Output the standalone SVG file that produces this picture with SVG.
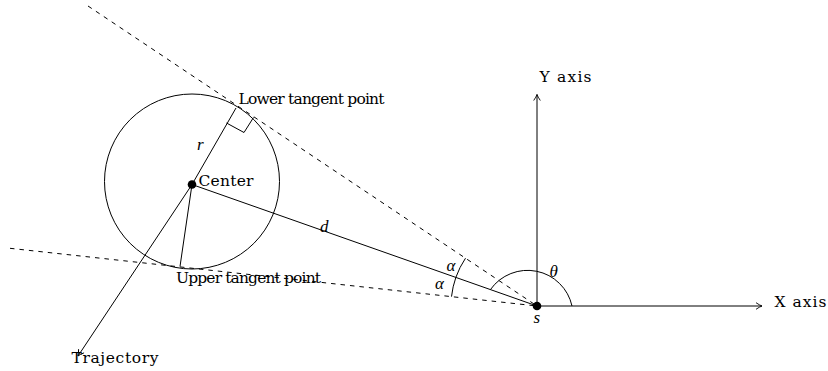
<svg xmlns="http://www.w3.org/2000/svg" width="828" height="371" viewBox="0 0 828 371">
<style>
.ln{fill:none;stroke:#000;stroke-width:1}
.dash{fill:none;stroke:#000;stroke-width:1;stroke-dasharray:4.5 5}
.lbl{font-family:"DejaVu Serif","Liberation Serif",serif;font-size:15.5px;fill:#000}
.math{font-family:"Liberation Serif","DejaVu Serif",serif;font-style:italic;font-size:17px;fill:#000}
</style>
<defs>
<marker id="arr" viewBox="-7 -4 8 8" refX="0" refY="0" markerWidth="8" markerHeight="8" orient="auto" markerUnits="userSpaceOnUse">
<path d="M-6,-3.3 Q-2.2,-0.7 0,0 Q-2.2,0.7 -6,3.3" fill="none" stroke="#000" stroke-width="0.9"/>
</marker>
</defs>

<g id="connectors">
<line class="dash" x1="88" y1="6" x2="537" y2="306"/>
<line class="dash" x1="10" y1="248.3" x2="537" y2="306"/>
<line class="ln" x1="192" y1="184.5" x2="537" y2="306"/>
<line class="ln" x1="192" y1="184.5" x2="236" y2="108"/>
<line class="ln" x1="192" y1="184.5" x2="180" y2="266.5"/>
<line class="ln" x1="192" y1="184.5" x2="78" y2="356" marker-end="url(#arr)"/>
<line class="ln" x1="537" y1="306" x2="537" y2="94.5" marker-end="url(#arr)"/>
<line class="ln" x1="537" y1="306" x2="762" y2="306" marker-end="url(#arr)"/>
<path class="ln" d="M465.5,258.2 A86,86 0 0 0 455.9,277.3"/>
<path class="ln" d="M455.9,277.3 A86,86 0 0 0 451.5,296.6"/>
<path class="ln" d="M490.5,289.5 A45.5,45.5 0 0 1 572,306"/>
</g>

<g id="obstacle">
<circle class="ln" cx="192" cy="181.5" r="87.5"/>
<path class="ln" d="M226.5,123 L244,132.5 L253.5,117.5"/>
<text class="math" x="197" y="150">r</text>
<text class="math" x="320" y="231.5">d</text>
</g>

<g id="center">
<circle cx="192" cy="184.5" r="4.3" fill="#000"/>
<text class="lbl" x="198.5" y="186" textLength="55" lengthAdjust="spacing">Center</text>
</g>

<g id="lower-tangent">
<text class="lbl" x="238.5" y="103.5" textLength="146" lengthAdjust="spacing">Lower tangent point</text>
</g>

<g id="upper-tangent">
<text class="lbl" x="176" y="283" textLength="145" lengthAdjust="spacing">Upper tangent point</text>
</g>

<g id="trajectory">
<text class="lbl" x="71.5" y="363" textLength="87" lengthAdjust="spacing">Trajectory</text>
</g>

<g id="sensor">
<circle cx="537" cy="306" r="4.3" fill="#000"/>
<text class="math" x="533.5" y="322.5">s</text>
<text class="math" x="549.5" y="276.5">θ</text>
<text class="math" x="446.5" y="270.5">α</text>
<text class="math" x="435" y="289">α</text>
</g>

<g id="y-axis">
<text class="lbl" x="539.5" y="81.5" textLength="52" lengthAdjust="spacing">Y axis</text>
</g>

<g id="x-axis">
<text class="lbl" x="774.5" y="306.5" textLength="52" lengthAdjust="spacing">X axis</text>
</g>
</svg>
